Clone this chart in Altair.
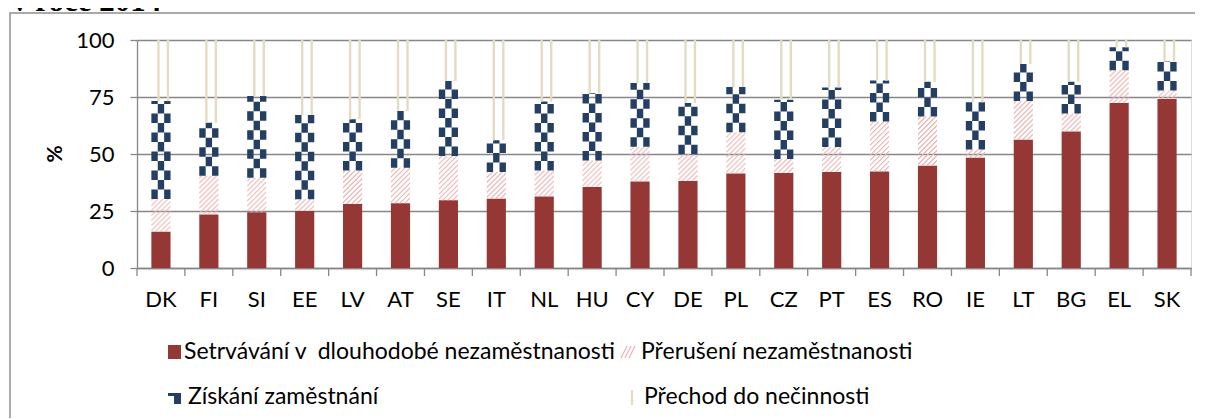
import altair as alt
import pandas as pd

countries = ["DK", "FI", "SI", "EE", "LV", "AT", "SE", "IT", "NL", "HU", "CY",
             "DE", "PL", "CZ", "PT", "ES", "RO", "IE", "LT", "BG", "EL", "SK"]
setrvavani = [15.9, 23.5, 24.4, 25.0, 28.1, 28.4, 29.7, 30.4, 31.4, 35.5, 37.9,
              38.2, 41.4, 41.7, 42.1, 42.3, 44.9, 48.4, 56.3, 59.9, 72.4, 74.1]
preruseni = [14.4, 17.0, 15.2, 5.1, 14.7, 15.6, 19.4, 11.7, 11.4, 11.7, 15.3,
             11.7, 18.1, 6.1, 11.0, 21.9, 21.5, 3.6, 16.9, 7.9, 14.3, 3.7]
ziskani = [42.9, 23.2, 35.8, 37.0, 22.4, 24.9, 32.9, 13.9, 30.2, 29.4, 27.9,
           22.5, 19.9, 26.0, 26.1, 18.0, 15.3, 20.7, 16.3, 13.9, 10.1, 12.8]
prechod = [26.8, 36.3, 24.6, 32.9, 34.8, 31.1, 18.0, 44.0, 27.0, 23.4, 18.9,
           27.6, 20.6, 26.2, 20.8, 17.8, 18.3, 27.3, 10.5, 18.3, 3.2, 9.4]
series_names = ["Setrvávání v\u00a0 dlouhodobé nezaměstnanosti", "Přerušení nezaměstnanosti",
                "Získání zaměstnání", "Přechod do nečinnosti"]
y_ticks = [0, 25, 50, 75, 100]
title_text = "v roce 2014"
y_title = "%"

RED = "#953735"
PINK = "#eeb4b4"
NAVY = "#243f62"
BEIGE = "#e3dcc2"
GRID = "#878787"
FONT = "Lato"

W, H = 1054, 228
STEP = W / len(countries)
BARW = STEP * 0.4

# stacked boundaries (cumulative sums of the series)
rows = []
for i, c in enumerate(countries):
    a = setrvavani[i]
    b = a + preruseni[i]
    d = b + ziskani[i]
    e = d + prechod[i]
    rows.append({"country": c, "r_lo": 0.0, "r_hi": a, "p_lo": a, "p_hi": b,
                 "z_lo": b, "z_hi": d, "c_lo": d, "c_hi": e})
df = pd.DataFrame(rows)
one = pd.DataFrame({"k": [0]})

xscale = alt.Scale(domain=countries, paddingInner=0.6, paddingOuter=0.3)
xaxis = alt.Axis(title=None, labelAngle=0, ticks=False, domainColor=GRID, domainWidth=1.3,
                 labelFont=FONT, labelFontSize=22, labelColor="black", labelPadding=21,
                 grid=False)
yscale = alt.Scale(domain=[0, 100], nice=False, zero=True)
yaxis = alt.Axis(title=None, values=y_ticks, grid=True, gridColor=GRID, gridWidth=1.3,
                 domainColor=GRID, domainWidth=1.3, tickColor=GRID, tickWidth=1.3, tickSize=7,
                 labelFont=FONT, labelFontSize=22, labelColor="black", labelPadding=16)

X = alt.X("country:N", sort=countries, scale=xscale, axis=xaxis)


def Y(f):
    return alt.Y(f + ":Q", scale=yscale, axis=yaxis)


base = alt.Chart(df)
layers = []

# frame
layers.append(alt.Chart(one).mark_rect(fill="white", fillOpacity=0, stroke="#8e8e8e", strokeWidth=1.5).encode(
    x=alt.value(-127), x2=alt.value(1100), y=alt.value(-27), y2=alt.value(420)))

# red bars
layers.append(base.mark_bar(color=RED).encode(x=X, y=Y("r_lo"), y2="r_hi"))

# pink hatch
ncol = 19
for i in range(ncol):
    off = -9.0 + i * 1.0
    layers.append(base.mark_rule(stroke=PINK, strokeWidth=1.05, xOffset=off,
                                 strokeDash=[1.6, 3.4],
                                 strokeDashOffset=((ncol - i) * 1.0) % 5).encode(
        x=X, y=Y("p_lo"), y2="p_hi"))

# navy checker
cw = BARW / 3
for j, dso in zip([-1, 0, 1], [0, 9.5, 0]):
    layers.append(base.mark_rule(stroke=NAVY, strokeWidth=cw, xOffset=j * cw,
                                 strokeDash=[9.5, 9.5], strokeDashOffset=dso).encode(
        x=X, y=Y("z_lo"), y2="z_hi"))

# cream stripes
for off in [-2.5, 7.0]:
    layers.append(base.mark_rule(stroke=BEIGE, strokeWidth=2.4, xOffset=off).encode(
        x=X, y=Y("c_lo"), y2="c_hi"))

# x ticks at category boundaries
layers.append(base.mark_rule(stroke=GRID, strokeWidth=1.3, xOffset=-STEP / 2).encode(
    x=X, y=alt.value(H), y2=alt.value(H + 8)))
layers.append(alt.Chart(one).mark_rule(stroke=GRID, strokeWidth=1.3).encode(
    x=alt.value(W), y=alt.value(H), y2=alt.value(H + 8)))

# y title
layers.append(alt.Chart(one).mark_text(font=FONT, fontSize=21, fontWeight="bold", angle=270,
                                        align="center", baseline="middle", color="black").encode(
    x=alt.value(-81), y=alt.value(H / 2), text=alt.value(y_title)))

# title (cut off at top)
layers.append(alt.Chart(one).mark_text(font="Liberation Serif", fontSize=31, fontWeight="bold",
                                        align="left", baseline="alphabetic", color="black").encode(
    x=alt.value(-125), y=alt.value(-29), text=alt.value(title_text)))

# legend
layers.append(alt.Chart(one).mark_rect(color=RED).encode(
    x=alt.value(31), x2=alt.value(44), y=alt.value(305), y2=alt.value(319)))
for k in range(3):
    layers.append(alt.Chart(one).mark_rule(stroke=PINK, strokeWidth=1.2).encode(
        x=alt.value(484 + 4 * k), x2=alt.value(490 + 4 * k), y=alt.value(318), y2=alt.value(306)))
layers.append(alt.Chart(one).mark_rect(color=NAVY).encode(
    x=alt.value(37), x2=alt.value(44), y=alt.value(353), y2=alt.value(364)))
layers.append(alt.Chart(one).mark_rect(color=NAVY).encode(
    x=alt.value(31), x2=alt.value(37), y=alt.value(353), y2=alt.value(356)))
layers.append(alt.Chart(one).mark_rule(stroke=BEIGE, strokeWidth=2.2).encode(
    x=alt.value(495), y=alt.value(350), y2=alt.value(365)))

legend_pos = [(47, 312), (504, 312), (51, 357), (507, 357)]
for name, (lx, ly) in zip(series_names, legend_pos):
    layers.append(alt.Chart(one).mark_text(font=FONT, fontSize=23, align="left", baseline="middle",
                                            color="black").encode(
        x=alt.value(lx), y=alt.value(ly), text=alt.value(name)))

chart = alt.layer(*layers).properties(
    width=W, height=H,
    autosize=alt.AutoSizeParams(type="none"),
    padding={"left": 129, "top": 32, "right": 4, "bottom": 150},
).configure_view(strokeWidth=0).configure(background="white")

chart.save("out.html", embed_options={"renderer": "svg", "actions": False})
